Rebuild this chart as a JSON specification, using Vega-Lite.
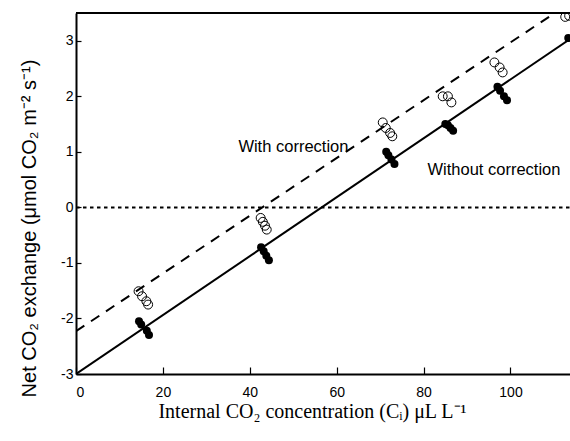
{
  "$schema": "https://vega.github.io/schema/vega-lite/v6.json",
  "autosize": "none",
  "width": 494,
  "height": 361,
  "padding": {"left": 76, "top": 13, "right": 0, "bottom": 67},
  "background": "white",
  "config": {
    "view": {"stroke": null},
    "font": "Liberation Sans"
  },
  "datasets": {
    "withCorr": [
      {"x": 14.4, "y": -1.51}, {"x": 15.2, "y": -1.6}, {"x": 16.2, "y": -1.69}, {"x": 16.6, "y": -1.75},
      {"x": 42.5, "y": -0.19}, {"x": 43.0, "y": -0.26}, {"x": 43.5, "y": -0.33}, {"x": 43.9, "y": -0.4},
      {"x": 70.6, "y": 1.53}, {"x": 71.3, "y": 1.43}, {"x": 72.3, "y": 1.34}, {"x": 72.8, "y": 1.28},
      {"x": 84.4, "y": 2.0}, {"x": 85.6, "y": 2.0}, {"x": 86.4, "y": 1.89},
      {"x": 96.3, "y": 2.61}, {"x": 97.5, "y": 2.52}, {"x": 98.2, "y": 2.43},
      {"x": 112.6, "y": 3.43}, {"x": 113.5, "y": 3.45}
    ],
    "withoutCorr": [
      {"x": 14.5, "y": -2.05}, {"x": 15.0, "y": -2.11}, {"x": 16.3, "y": -2.22}, {"x": 16.8, "y": -2.3},
      {"x": 42.6, "y": -0.72}, {"x": 43.2, "y": -0.79}, {"x": 43.8, "y": -0.87}, {"x": 44.4, "y": -0.95},
      {"x": 71.4, "y": 1.0}, {"x": 71.9, "y": 0.94}, {"x": 72.6, "y": 0.86}, {"x": 73.3, "y": 0.78},
      {"x": 85.0, "y": 1.5}, {"x": 85.6, "y": 1.48}, {"x": 86.2, "y": 1.43}, {"x": 86.8, "y": 1.38},
      {"x": 97.0, "y": 2.17}, {"x": 97.6, "y": 2.1}, {"x": 98.5, "y": 2.0}, {"x": 99.2, "y": 1.93},
      {"x": 113.3, "y": 3.05}
    ],
    "fitWithout": [{"x": 0, "y": -3}, {"x": 113.7, "y": 3.03}],
    "fitWith": [{"x": 0, "y": -2.23}, {"x": 110.2, "y": 3.5}],
    "zeroLine": [{"x": 0, "x2": 113.7, "y": 0}],
    "topLine": [{"x": 0, "x2": 113.7, "y": 3.5}],
    "labelWith": [{"x": 62.7, "y": 1.0, "text": "With correction"}],
    "labelWithout": [{"x": 80.9, "y": 0.58, "text": "Without correction"}]
  },
  "encoding": {
    "x": {
      "field": "x", "type": "quantitative",
      "scale": {"domain": [0, 113.7], "nice": false, "zero": false},
      "axis": {
        "values": [0, 20, 40, 60, 80, 100],
        "grid": false,
        "domainColor": "black", "domainWidth": 2,
        "tickColor": "black", "tickWidth": 1.2, "tickSize": -7,
        "labelFontSize": 14, "labelColor": "black", "labelPadding": 18,
        "labelFont": "Liberation Sans",
        "title": "Internal CO₂ concentration (Cᵢ) μL L⁻¹",
        "titleFont": "Liberation Serif", "titleFontSize": 20, "titleFontWeight": "normal",
        "titleColor": "black", "titleX": 236, "titleY": 43, "titleBaseline": "alphabetic"
      }
    },
    "y": {
      "field": "y", "type": "quantitative",
      "scale": {"domain": [-3, 3.5], "nice": false, "zero": false},
      "axis": {
        "values": [-3, -2, -1, 0, 1, 2, 3],
        "labelExpr": "'' + datum.value",
        "grid": false,
        "domainColor": "black", "domainWidth": 2,
        "tickColor": "black", "tickWidth": 1.2, "tickSize": -5,
        "labelFontSize": 14, "labelColor": "black", "labelPadding": 8,
        "labelFont": "Liberation Sans",
        "title": "Net CO₂ exchange (μmol CO₂ m⁻² s⁻¹)",
        "titleFont": "Liberation Sans", "titleFontSize": 20, "titleFontWeight": "normal",
        "titleColor": "black", "titleX": -41, "titleY": 215, "titleBaseline": "alphabetic"
      }
    }
  },
  "layer": [
    {
      "data": {"name": "zeroLine"},
      "mark": {"type": "rule", "color": "black", "strokeWidth": 2, "strokeDash": [3.5, 3.5]},
      "encoding": {"x2": {"field": "x2"}}
    },
    {
      "data": {"name": "topLine"},
      "mark": {"type": "rule", "color": "black", "strokeWidth": 2},
      "encoding": {"x2": {"field": "x2"}}
    },
    {
      "data": {"name": "fitWithout"},
      "mark": {"type": "line", "color": "black", "strokeWidth": 2, "clip": true},
      "encoding": {}
    },
    {
      "data": {"name": "fitWith"},
      "mark": {"type": "line", "color": "black", "strokeWidth": 2, "strokeDash": [10, 8], "clip": true},
      "encoding": {}
    },
    {
      "data": {"name": "withCorr"},
      "mark": {"type": "point", "shape": "circle", "filled": false, "stroke": "black", "strokeWidth": 1, "size": 80, "opacity": 1, "clip": true},
      "encoding": {}
    },
    {
      "data": {"name": "withoutCorr"},
      "mark": {"type": "point", "shape": "circle", "filled": true, "color": "black", "size": 64, "opacity": 1, "clip": true},
      "encoding": {}
    },
    {
      "data": {"name": "labelWith"},
      "mark": {"type": "text", "fontSize": 16.5, "color": "black", "baseline": "alphabetic", "align": "right", "font": "Liberation Sans"},
      "encoding": {"text": {"field": "text"}}
    },
    {
      "data": {"name": "labelWithout"},
      "mark": {"type": "text", "fontSize": 16.5, "color": "black", "baseline": "alphabetic", "align": "left", "font": "Liberation Sans"},
      "encoding": {"text": {"field": "text"}}
    }
  ]
}
